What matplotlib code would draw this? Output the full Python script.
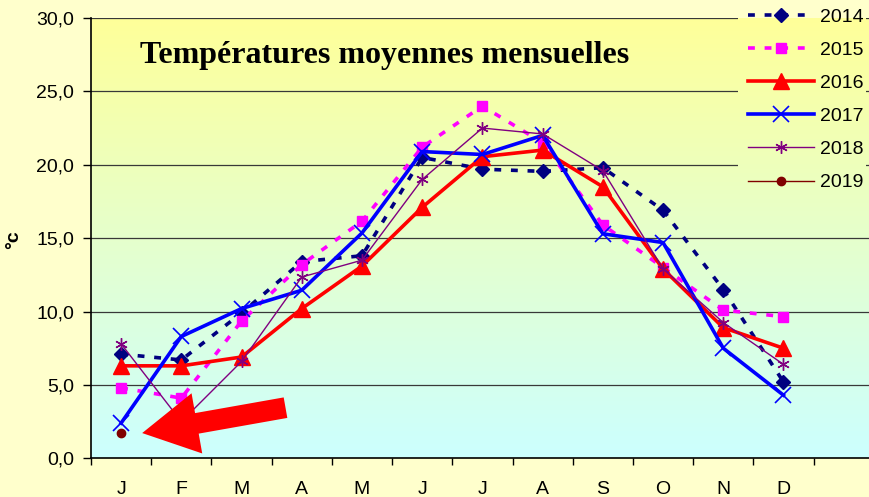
import numpy as np
import matplotlib
matplotlib.use("Agg")
from matplotlib import pyplot as plt
from matplotlib.ticker import FuncFormatter, FixedLocator

# monthly mean temperatures (°C)
months = ["J", "F", "M", "A", "M", "J", "J", "A", "S", "O", "N", "D"]
t2014 = [7.1, 6.7, 9.9, 13.4, 13.8, 20.5, 19.7, 19.55, 19.8, 16.9, 11.5, 5.2]
t2015 = [4.8, 4.1, 9.35, 13.2, 16.15, 21.2, 24.0, 21.5, 15.9, 13.0, 10.1, 9.65]
t2016 = [6.3, 6.3, 6.9, 10.2, 13.1, 17.1, 20.55, 21.0, 18.5, 12.9, 8.9, 7.5]
t2017 = [2.4, 8.3, 10.2, 11.45, 15.35, 20.9, 20.7, 22.0, 15.3, 14.7, 7.5, 4.3]
t2018 = [7.8, 2.5, 6.6, 12.35, 13.5, 19.0, 22.5, 22.1, 19.6, 12.9, 9.25, 6.4]
t2019 = [1.7] + [np.nan] * 11
years = ["2014", "2015", "2016", "2017", "2018", "2019"]

plt.rcParams['font.family'] = ['Liberation Sans', 'DejaVu Sans']

W, H = 869, 497
fig = plt.figure(figsize=(W / 100, H / 100), dpi=100, facecolor="#FFFFCC")
ax_l, ax_r, ax_t, ax_b = 91, 869, 18, 458.3
ax = fig.add_axes([ax_l / W, (H - ax_b) / H, (ax_r - ax_l) / W, (ax_b - ax_t) / H])
ax.set_facecolor("none")

x = np.arange(len(months))

# background gradient yellow -> pale cyan
top_c = np.array([1.0, 1.0, 0.6])
bot_c = np.array([0.8, 1.0, 1.0])

def grad(f0, f1):
    f = np.linspace(f1, f0, 200)[:, None, None]
    return (bot_c + (top_c - bot_c) * f) * np.ones((1, 2, 3))

ax.imshow(grad(0, 1), extent=[0, 1, 0, 1], transform=ax.transAxes,
          aspect="auto", zorder=0)
for v in range(5, 31, 5):
    ax.axhline(v, color="#383838", lw=0.9, zorder=0.5)
# legend box hides the gridlines
lx0, lx1, ly0 = (738 - ax_l) / (ax_r - ax_l), (866 - ax_l) / (ax_r - ax_l), (ax_b - 200) / (ax_b - ax_t)
ax.imshow(grad(ly0, 1), extent=[lx0, lx1, ly0, 1], transform=ax.transAxes,
          aspect="auto", zorder=0.8)
ax.set_xlim(-0.5, 12.42)
ax.set_ylim(0, 30)

dash = (0, (1.9, 2.7))
h1, = ax.plot(x, t2014, color="#000080", lw=2.6, ls=dash, marker="D", ms=7, zorder=3)
h2, = ax.plot(x, t2015, color="#FF00FF", lw=2.6, ls=dash, marker="s", ms=7.5, zorder=3)
h3, = ax.plot(x, t2016, color="#FF0000", lw=2.6, marker="^", ms=12, zorder=3)
h4, = ax.plot(x, t2017, color="#0000FF", lw=2.6, marker="x", ms=11, mew=1.2, zorder=3)
h5, = ax.plot(x, t2018, color="#800080", lw=1.0, marker=(6, 2, 0), ms=9, mew=1.0, zorder=3)
h6, = ax.plot(x, t2019, color="#800000", lw=1.0, marker="o", ms=6, zorder=3)

# red arrow pointing at January 2019
ax.annotate("", xy=(0.35, 1.72), xytext=(2.73, 3.45),
            arrowprops=dict(arrowstyle="simple,head_width=4.4,head_length=4.0,tail_width=1.5",
                            mutation_scale=10, color="#FF0000", lw=0, shrinkA=0, shrinkB=0),
            zorder=4)

ax.text(0.378, 0.915, "Températures moyennes mensuelles", transform=ax.transAxes,
        ha="center", va="center", fontsize=23, fontweight="bold",
        family=["Liberation Serif", "DejaVu Serif"], zorder=5)

ax.set_xticks(x)
ax.set_xticklabels(months)
ax.xaxis.set_minor_locator(FixedLocator(np.arange(-0.5, 12, 1)))
ax.tick_params(axis="x", which="major", length=0, pad=16, labelsize=14)
ax.tick_params(axis="x", which="minor", length=5, width=1, color="black")
ax.set_yticks(np.arange(0, 31, 5))
ax.yaxis.set_major_formatter(FuncFormatter(lambda v, p: f"{v:.1f}".replace(".", ",")))
ax.tick_params(axis="y", length=6, width=1, pad=6, labelsize=14)
for s in ["top", "right"]:
    ax.spines[s].set_visible(False)
ax.spines["left"].set_linewidth(1.2)
ax.spines["bottom"].set_linewidth(1.2)

fig.text(14 / W, 1 - 240 / H, "°c", rotation=90, ha="center", va="center",
         fontsize=14, fontweight="bold")

leg = ax.legend([h1, h2, h3, h4, h5, h6], years, loc="upper left",
                bbox_to_anchor=(748 / W, 1 - 8 / H), bbox_transform=fig.transFigure,
                frameon=False, fontsize=14, handlelength=3.4, handletextpad=0.3,
                labelspacing=0.8, borderpad=0, borderaxespad=0, numpoints=1)
leg.set_zorder(6)

fig.savefig("out.png", dpi=100, facecolor=fig.get_facecolor())
